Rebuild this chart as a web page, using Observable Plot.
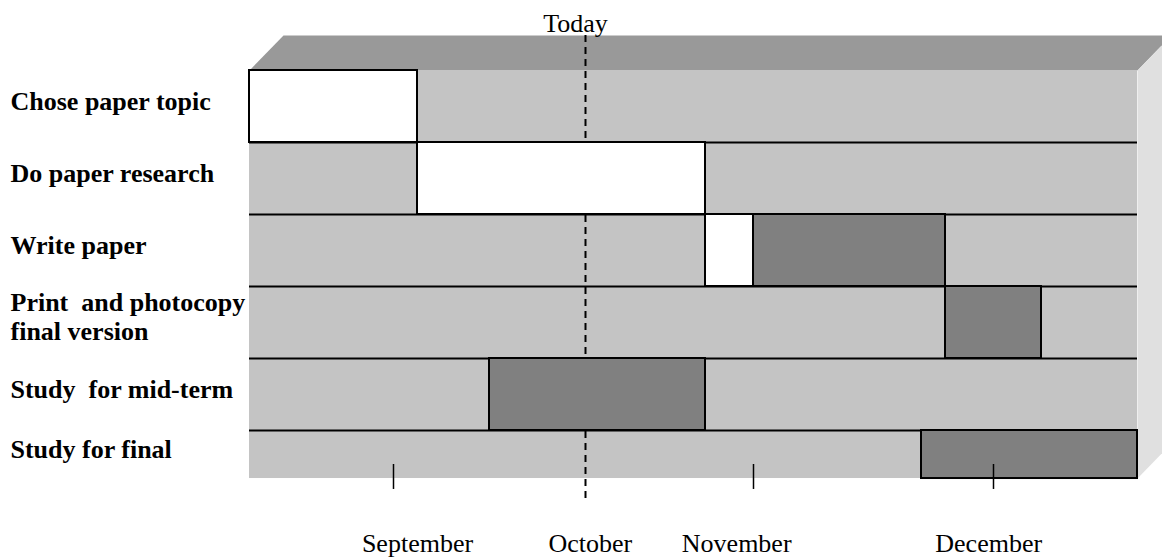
<!DOCTYPE html>
<html>
<head>
<meta charset="utf-8">
<script src="https://cdn.jsdelivr.net/npm/d3@7"></script>
<script src="https://cdn.jsdelivr.net/npm/@observablehq/plot@0.6"></script>
<style>
  html, body { margin: 0; padding: 0; background: #fff; overflow: hidden; }
  svg text { white-space: pre; font-family: "Liberation Serif", "Times New Roman", serif; }
</style>
</head>
<body>
<div id="chart"></div>
<script>
// ---- data (time axis in weeks from start of term) ----
const tasks = [
  "Chose paper topic",
  "Do paper research",
  "Write paper",
  "Print  and photocopy\nfinal version",
  "Study  for mid-term",
  "Study for final"
];
const barTask   = [0, 1, 2, 2, 3, 4, 5];
const barStart  = [0, 7, 19, 21, 29, 10, 28];
const barEnd    = [7, 19, 21, 29, 33, 19, 37];
const barStatus = ["done", "done", "done", "planned", "planned", "planned", "planned"];

const monthNames    = ["September", "October", "November", "December"];
const monthLabelPos = [7, 14.2, 20.3, 30.8];
const monthTicks    = [6, 21, 31];
const today = 14;
const totalWeeks = 37;

// ---- geometry of the 3D box ----
const visibleRows = 5.667;              // front face ends part-way through last row
const depthX = 34 / 24, depthY = 35 / 72;
const serif = "'Liberation Serif', 'Times New Roman', serif";

const rows = tasks.map((t, i) => ({
  task: t, top: i, bottom: Math.min(i + 1, visibleRows)
}));
const bars = barTask.map((r, i) => ({
  top: rows[r].top, bottom: rows[r].bottom,
  start: barStart[i], end: barEnd[i], status: barStatus[i]
}));
const topFace = [
  {x: 0, y: 0}, {x: depthX, y: -depthY},
  {x: totalWeeks + depthX, y: -depthY}, {x: totalWeeks, y: 0}
];
const rightFace = [
  {x: totalWeeks, y: 0}, {x: totalWeeks + depthX, y: -depthY},
  {x: totalWeeks + depthX, y: visibleRows - depthY}, {x: totalWeeks, y: visibleRows}
];
const monthLabels = monthNames.map((m, i) => ({name: m, x: monthLabelPos[i]}));

const chart = Plot.plot({
  width: 1162,
  height: 557,
  marginLeft: 249,
  marginRight: 25,
  marginTop: 70,
  marginBottom: 55,
  x: {domain: [0, totalWeeks], axis: null},
  y: {domain: [0, 6], reverse: true, axis: null},
  style: {fontFamily: serif, fontSize: "26px", overflow: "hidden", background: "#fff", color: "#000"},
  marks: [
    Plot.line(topFace, {x: "x", y: "y", fill: "#999999", stroke: "none"}),
    Plot.line(rightFace, {x: "x", y: "y", fill: "#e0e0e0", stroke: "none"}),
    Plot.rect(rows, {x1: 0, x2: totalWeeks, y1: "top", y2: "bottom", fill: "#c4c4c4"}),
    Plot.ruleX([today], {y1: -depthY, y2: 6, stroke: "#000", strokeWidth: 2, strokeDasharray: "7,5"}),
    Plot.ruleY(rows.slice(1).map(d => d.top), {x1: 0, x2: totalWeeks, stroke: "#000", strokeWidth: 2.2}),
    Plot.rect(bars, {
      x1: "start", x2: "end", y1: "top", y2: "bottom",
      fill: d => d.status === "done" ? "#ffffff" : "#808080",
      stroke: "#000", strokeWidth: 2
    }),
    Plot.ruleX(monthTicks, {y1: 5.472, y2: 5.819, stroke: "#000", strokeWidth: 1.5}),
    Plot.text(rows, {
      y: d => (d.top + d.bottom) / 2, text: "task",
      frameAnchor: "left", textAnchor: "start", dx: -239, dy: -6,
      fontFamily: serif, fontWeight: "bold", fontSize: 26, lineHeight: 1.09, fill: "#000"
    }),
    Plot.text([today], {x: d => d, y: -depthY, text: () => "Today", lineAnchor: "bottom", dy: -4, dx: -10, fontFamily: serif, fontSize: 26, fill: "#000"}),
    Plot.text(monthLabels, {x: "x", y: 6, text: "name", lineAnchor: "top", dy: 31.5, fontFamily: serif, fontSize: 26, fill: "#000"})
  ]
});
document.getElementById("chart").appendChild(chart);
</script>
</body>
</html>
